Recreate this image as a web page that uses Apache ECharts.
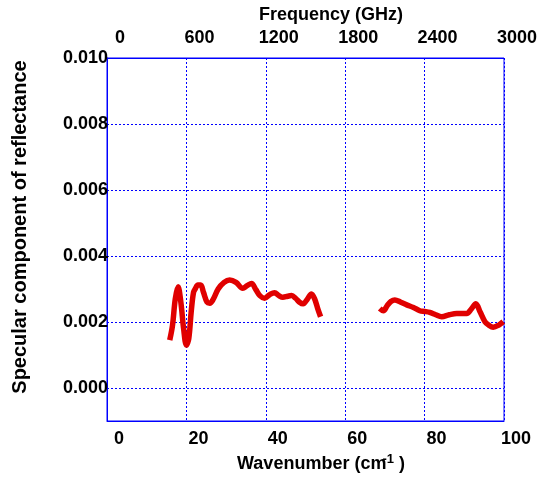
<!DOCTYPE html>
<html>
<head>
<meta charset="utf-8">
<script src="https://cdn.jsdelivr.net/npm/echarts@6/dist/echarts.min.js"></script>
<style>
  html, body { margin: 0; padding: 0; background: #fff; }
  #main { width: 538px; height: 477px; }
</style>
</head>
<body>
<div id="main"></div>
<script>
var myChart = echarts.init(document.getElementById('main'));

// first band (wavenumber cm-1, specular reflectance)
var wave1 = [15.8, 16.5, 17.2, 17.9, 18.6, 19.3, 20.0, 20.6, 21.2, 21.8, 22.3, 22.9, 23.6, 24.3, 25.2, 25.9, 26.8, 28.0, 29.5, 30.9, 32.5, 34.2, 35.3, 36.4, 37.5, 38.5, 39.7, 41.0, 42.2, 43.3, 44.3, 45.5, 46.5, 47.5, 48.5, 49.4, 50.5, 51.5, 52.3, 53.1, 53.8];
var refl1 = [0.00145, 0.0019, 0.0027, 0.00307, 0.0026, 0.0018, 0.0013, 0.0015, 0.0023, 0.0029, 0.00302, 0.00312, 0.00312, 0.0029, 0.0026, 0.00257, 0.0027, 0.003, 0.0032, 0.00327, 0.0032, 0.00302, 0.0031, 0.00317, 0.00298, 0.0028, 0.00272, 0.00283, 0.00289, 0.0028, 0.00275, 0.00278, 0.0028, 0.00272, 0.0026, 0.00255, 0.0027, 0.00285, 0.0027, 0.0024, 0.00216];

// second band
var wave2 = [68.7, 69.6, 70.6, 71.5, 72.5, 74.0, 75.5, 77.2, 78.8, 80.0, 81.3, 82.8, 84.3, 86.2, 88.1, 90.6, 91.8, 92.9, 94.0, 95.2, 96.2, 97.3, 98.6, 99.8];
var refl2 = [0.00241, 0.00234, 0.0025, 0.00262, 0.00267, 0.0026, 0.00252, 0.00244, 0.00234, 0.00232, 0.00229, 0.00222, 0.00216, 0.00222, 0.00226, 0.00226, 0.0024, 0.00255, 0.0023, 0.00201, 0.0019, 0.00184, 0.0019, 0.00201];

var yTicks = [0, 0.002, 0.004, 0.006, 0.008, 0.010];

function pairs(xs, ys) {
    return xs.map(function (x, i) { return [x, ys[i]]; });
}

var blue = '#0000ff';
var font = 'Liberation Sans, Arial, sans-serif';
var labelStyle = {
    color: '#000',
    fontFamily: font,
    fontWeight: 'bold',
    fontSize: 18
};
var gridDots = { show: true, lineStyle: { color: blue, type: [2, 2], width: 1 } };
var plain = function (v) { return String(v); };

myChart.setOption({
    backgroundColor: '#fff',
    animation: false,
    grid: {
        left: 107, right: 34, top: 58, bottom: 56,
        outerBoundsMode: 'none',
        containLabel: false,
        show: true,
        borderColor: blue,
        borderWidth: 1
    },
    xAxis: [{
        type: 'value',
        position: 'bottom',
        min: 0, max: 100, interval: 20,
        axisLine: { show: true, onZero: false, lineStyle: { color: blue } },
        axisTick: { show: false },
        splitLine: gridDots,
        axisLabel: Object.assign({ margin: 9, padding: [0, 0, 0, 24], formatter: plain }, labelStyle)
    }, {
        type: 'value',
        position: 'top',
        min: 0, max: 3000, interval: 600,
        axisLine: { show: true, onZero: false, lineStyle: { color: blue } },
        axisTick: { show: false },
        splitLine: { show: false },
        axisLabel: Object.assign({ margin: 11, padding: [0, 0, 0, 26], formatter: plain }, labelStyle)
    }],
    yAxis: {
        type: 'value',
        min: -0.001, max: 0.010,
        axisLine: { show: true, onZero: false, lineStyle: { color: blue } },
        axisTick: { show: false, customValues: yTicks },
        splitLine: gridDots,
        axisLabel: Object.assign({
            margin: -1,
            customValues: yTicks,
            formatter: function (v) { return v.toFixed(3); }
        }, labelStyle)
    },
    graphic: [{
        type: 'text',
        x: 331, y: 15,
        style: {
            text: 'Frequency (GHz)',
            font: 'bold 18px ' + font,
            fill: '#000',
            align: 'center',
            verticalAlign: 'middle'
        }
    }, {
        type: 'text',
        x: 321, y: 464,
        style: {
            text: 'Wavenumber (cm{sup|-1} )',
            font: 'bold 18px ' + font,
            fill: '#000',
            align: 'center',
            verticalAlign: 'middle',
            rich: {
                sup: { fontSize: 13, fontWeight: 'bold', fontFamily: font, padding: [0, 0, 10, -4] }
            }
        }
    }, {
        type: 'text',
        x: 20, y: 227,
        rotation: Math.PI / 2,
        style: {
            text: 'Specular component of reflectance',
            font: 'bold 20px ' + font,
            fill: '#000',
            align: 'center',
            verticalAlign: 'middle'
        }
    }],
    series: [{
        type: 'line',
        data: pairs(wave1, refl1),
        showSymbol: false,
        smooth: 0.35,
        lineStyle: { color: '#e00000', width: 5.5 }
    }, {
        type: 'line',
        data: pairs(wave2, refl2),
        showSymbol: false,
        smooth: 0.35,
        lineStyle: { color: '#e00000', width: 5.5 }
    }]
});
</script>
</body>
</html>
